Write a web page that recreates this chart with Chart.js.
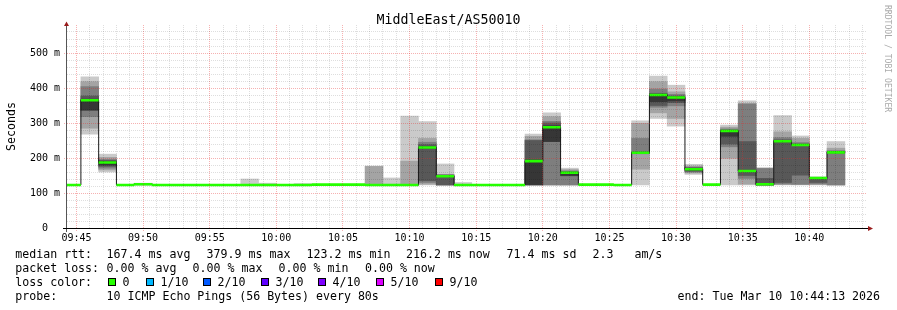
<!DOCTYPE html>
<html>
<head>
<meta charset="utf-8">
<title>MiddleEast/AS50010</title>
<script src="https://cdn.jsdelivr.net/npm/chart.js@4.4.1/dist/chart.umd.min.js"></script>
<style>
body { margin: 0; background: #fff; }
#wrap { width: 897px; height: 310px; }
</style>
</head>
<body>
<div id="wrap"><canvas id="myChart" width="897" height="310"></canvas></div>
<script>
var graphTitle = "MiddleEast/AS50010";
var yAxisTitle = "Seconds";
var watermark = "RRDTOOL / TOBI OETIKER";

// start of every 80 s step
var stepStart = [
    "09:44:00", "09:45:20", "09:46:40", "09:48:00", "09:49:20", "09:50:40", "09:52:00", "09:53:20",
    "09:54:40", "09:56:00", "09:57:20", "09:58:40", "10:00:00", "10:01:20", "10:02:40", "10:04:00",
    "10:05:20", "10:06:40", "10:08:00", "10:09:20", "10:10:40", "10:12:00", "10:13:20", "10:14:40",
    "10:16:00", "10:17:20", "10:18:40", "10:20:00", "10:21:20", "10:22:40", "10:24:00", "10:25:20",
    "10:26:40", "10:28:00", "10:29:20", "10:30:40", "10:32:00", "10:33:20", "10:34:40", "10:36:00",
    "10:37:20", "10:38:40", "10:40:00", "10:41:20"
];
var stepEnd = "10:42:40";

// median rtt per step (ms)
var medianRtt = [
    123, 365, 187, 123, 125, 123, 123, 123,
    123, 123, 123, 123, 123, 123, 124, 124,
    124, 123, 123, 123, 230, 148, 123, 123,
    123, 123, 191, 288, 158, 124, 124, 123,
    215, 380, 373, 168, 124, 277, 163, 125,
    248, 237, 143, 216
];

// the 10 sorted pings per step (ms), null = no spread
var pings = [
    null,
    [268, 285, 318, 336, 337, 368, 377, 404, 418, 432],
    [160, 166, 171, 176, 180, 190, 193, 196, 202, 211],
    null,
    [123, 123, 124, 124, 125, 126, 126, 127, 127, 128],
    null, null, null,
    null, null,
    [123, 123, 123, 123, 123, 123, 123, 123, 124, 140],
    [123, 123, 123, 123, 123, 123, 123, 123, 124, 128],
    null,
    [123, 123, 123, 123, 123, 123, 123, 123, 124, 127],
    null, null,
    null,
    [123, 123, 123, 123, 123, 123, 123, 123, 176, 177],
    [123, 123, 123, 123, 123, 123, 123, 123, 125, 143],
    [123, 123, 123, 123, 123, 123, 123, 123, 191, 320],
    [123, 125, 130, 135, 228, 232, 238, 245, 256, 304],
    [123, 123, 123, 123, 147, 149, 151, 152, 153, 183],
    [123, 123, 123, 123, 123, 123, 123, 123, 124, 130],
    null,
    null, null,
    [123, 123, 123, 123, 124, 195, 250, 252, 262, 268],
    [123, 123, 123, 247, 247, 292, 300, 305, 318, 329],
    [123, 123, 123, 149, 150, 159, 161, 163, 167, 171],
    null, null, null,
    [123, 168, 212, 213, 214, 216, 217, 256, 299, 306],
    [313, 329, 345, 350, 361, 382, 385, 397, 418, 434],
    [291, 313, 349, 358, 363, 375, 377, 382, 389, 408],
    [153, 157, 160, 162, 165, 170, 172, 174, 177, 182],
    null,
    [123, 199, 232, 240, 262, 279, 280, 283, 288, 294],
    [123, 125, 142, 150, 162, 165, 247, 354, 356, 363],
    [123, 123, 123, 123, 123, 127, 142, 170, 171, 172],
    [123, 124, 126, 130, 246, 250, 252, 258, 275, 321],
    [123, 124, 125, 151, 236, 238, 240, 244, 256, 263],
    [123, 124, 126, 130, 141, 143, 143, 144, 145, 146],
    [123, 123, 123, 214, 215, 217, 219, 221, 228, 247]
];

var xTickLabels = ["09:45", "09:50", "09:55", "10:00", "10:05", "10:10", "10:15", "10:20", "10:25", "10:30", "10:35", "10:40"];
var yTickValues = [0, 100, 200, 300, 400, 500];
var yTickLabels = ["0  ", "100 m", "200 m", "300 m", "400 m", "500 m"];

var statLine = ["167.4 ms avg", "379.9 ms max", "123.2 ms min", "216.2 ms now", "71.4 ms sd", "2.3", "am/s"];
var lossLine = ["0.00 % avg", "0.00 % max", "0.00 % min", "0.00 % now"];
var lossLabels = ["0", "1/10", "2/10", "3/10", "4/10", "5/10", "9/10"];
var lossColors = ["#26ff00", "#00b8ff", "#0059ff", "#5e00ff", "#7e00ff", "#dd00ff", "#ff0000"];
var probeText = "10 ICMP Echo Pings (56 Bytes) every 80s";
var endText = "end: Tue Mar 10 10:44:13 2026";

var mono = "'DejaVu Sans Mono', monospace";
var xMin = 584.29, xMax = 644.33;
var plotLeft = 67, plotRight = 867, plotTop = 25, plotBottom = 228;
var smokeColors = ["#cacaca", "#a4a4a4", "#7e7e7e", "#585858", "#363636"];
var minorGrid = "rgba(0, 0, 0, 0.13)";
var majorGrid = "rgba(230, 40, 40, 0.36)";

function toMin(s) {
    var p = s.split(":");
    return p[0] * 60 + Number(p[1]) + (p[2] ? p[2] / 60 : 0);
}
function fmtMin(v) {
    var h = Math.floor(v / 60), m = Math.round(v - h * 60);
    return (h < 10 ? "0" : "") + h + ":" + (m < 10 ? "0" : "") + m;
}

var stepMin = 80 / 60;
var barPx = (plotRight - plotLeft) / (xMax - xMin) * stepMin;

var datasets = [];
//Smoke
smokeColors.forEach(function (col, b) {
    var pts = [];
    pings.forEach(function (p, i) {
        if (p) {
            pts.push({ x: toMin(stepStart[i]) + stepMin / 2, y: [p[b], p[9 - b]] });
        }
    });
    datasets.push({
        type: 'bar',
        data: pts,
        backgroundColor: col,
        borderWidth: 0,
        grouped: false,
        barThickness: barPx,
        clip: 0,
        order: 20 - b
    });
});
//Median schwarz
var medianPts = stepStart.map(function (t, i) { return { x: toMin(t), y: medianRtt[i] }; });
medianPts.push({ x: toMin(stepEnd), y: medianRtt[medianRtt.length - 1] });
datasets.push({
    type: 'line',
    data: medianPts,
    stepped: true,
    borderColor: '#1a1a1a',
    borderWidth: 1,
    pointRadius: 0,
    fill: false,
    clip: 0,
    order: 2
});
//Median gruen (loss 0)
var greenPts = [];
stepStart.forEach(function (t, i) {
    var end = i + 1 < stepStart.length ? toMin(stepStart[i + 1]) : toMin(stepEnd);
    greenPts.push({ x: toMin(t), y: medianRtt[i] }, { x: end, y: medianRtt[i] }, { x: end, y: null });
});
datasets.push({
    type: 'line',
    data: greenPts,
    borderColor: lossColors[0],
    borderWidth: 2.6,
    borderCapStyle: 'butt',
    pointRadius: 0,
    spanGaps: false,
    fill: false,
    clip: 0,
    order: 1
});

var rrdDecor = {
    id: 'rrdDecor',
    afterDraw: function (chart) {
        var ctx = chart.ctx;
        var a = chart.chartArea;
        ctx.save();
        // Achsen
        ctx.lineWidth = 1;
        ctx.strokeStyle = '#555';
        ctx.beginPath();
        ctx.moveTo(a.left - 0.5, a.bottom + 4);
        ctx.lineTo(a.left - 0.5, a.top - 1);
        ctx.stroke();
        ctx.strokeStyle = '#000';
        ctx.beginPath();
        ctx.moveTo(a.left - 4, a.bottom + 0.5);
        ctx.lineTo(a.right + 2, a.bottom + 0.5);
        ctx.stroke();
        ctx.fillStyle = '#9a1c1c';
        ctx.beginPath();
        ctx.moveTo(a.left - 0.5, a.top - 3.5);
        ctx.lineTo(a.left - 3, a.top + 1);
        ctx.lineTo(a.left + 2, a.top + 1);
        ctx.closePath();
        ctx.fill();
        ctx.beginPath();
        ctx.moveTo(a.right + 6, a.bottom + 0.5);
        ctx.lineTo(a.right + 1, a.bottom - 2);
        ctx.lineTo(a.right + 1, a.bottom + 3);
        ctx.closePath();
        ctx.fill();

        // Titel
        ctx.fillStyle = '#000';
        ctx.textAlign = 'center';
        ctx.textBaseline = 'alphabetic';
        ctx.font = "13.3px " + mono;
        ctx.fillText(graphTitle, 448.5, 24);

        ctx.font = "11.6px " + mono;
        ctx.save();
        ctx.translate(15.3, 126.5);
        ctx.rotate(-Math.PI / 2);
        ctx.fillText(yAxisTitle, 0, 0);
        ctx.restore();

        ctx.save();
        ctx.fillStyle = '#aaa';
        ctx.font = "8.1px " + mono;
        ctx.textAlign = 'left';
        ctx.translate(885, 5);
        ctx.rotate(Math.PI / 2);
        ctx.fillText(watermark, 0, 0);
        ctx.restore();

        // Legende
        ctx.textAlign = 'left';
        var statX = [106.6, 206.6, 306.6, 406, 506.6, 592.6, 634.4];
        ctx.fillText("median rtt:", 15.3, 258.3);
        statLine.forEach(function (s, i) { ctx.fillText(s, statX[i], 258.3); });
        var lossX = [106.6, 192.6, 278.6, 365];
        ctx.fillText("packet loss:", 15.3, 272.3);
        lossLine.forEach(function (s, i) { ctx.fillText(s, lossX[i], 272.3); });
        ctx.fillText("loss color:", 15.3, 286.3);
        var boxX = [108, 146, 203, 261, 318, 376, 435];
        lossLabels.forEach(function (s, i) {
            ctx.fillStyle = lossColors[i];
            ctx.fillRect(boxX[i], 278, 8, 8);
            ctx.strokeStyle = '#000';
            ctx.strokeRect(boxX[i] + 0.5, 278.5, 7, 7);
            ctx.fillStyle = '#000';
            ctx.fillText(s, boxX[i] + 14.6, 286.3);
        });
        ctx.fillText("probe:", 15.3, 300.3);
        ctx.fillText(probeText, 106.6, 300.3);
        ctx.fillText(endText, 677.6, 300.3);
        ctx.restore();
    }
};

var canvas = document.getElementById('myChart');
var myChart = new Chart(canvas, {
    data: { datasets: datasets },
    options: {
        responsive: false,
        animation: false,
        events: [],
        layout: { padding: { top: plotTop, right: 897 - plotRight, bottom: 0, left: 0 } },
        plugins: {
            legend: { display: false },
            tooltip: { enabled: false },
            title: { display: false }
        },
        scales: {
            x: {
                type: 'linear',
                min: xMin,
                max: xMax,
                offset: false,
                bounds: 'data',
                afterFit: function (s) {
                    s.height = 310 - plotBottom;
                    s.paddingLeft = 0;
                    s.paddingRight = 0;
                },
                afterBuildTicks: function (s) {
                    var t = [];
                    for (var m = Math.ceil(xMin); m <= xMax; m++) t.push({ value: m });
                    s.ticks = t;
                },
                ticks: {
                    autoSkip: false,
                    maxRotation: 0,
                    minRotation: 0,
                    padding: 1,
                    color: '#000',
                    font: { family: mono, size: 10 },
                    callback: function (v) {
                        var s = fmtMin(v);
                        return xTickLabels.indexOf(s) >= 0 ? s : "";
                    }
                },
                grid: {
                    z: 1,
                    offset: false,
                    lineWidth: 1,
                    drawTicks: true,
                    tickLength: 3,
                    color: function (c) { return c.tick && c.tick.value % 5 === 0 ? majorGrid : minorGrid; },
                    tickColor: function (c) { return c.tick && c.tick.value % 5 === 0 ? majorGrid : 'rgba(0,0,0,0)'; },
                    tickBorderDash: [1, 1]
                },
                border: { display: false, dash: [1, 1] }
            },
            y: {
                type: 'linear',
                min: 0,
                max: (plotBottom - plotTop) / 0.35,
                bounds: 'data',
                afterFit: function (s) {
                    s.width = plotLeft;
                    s.paddingTop = 0;
                    s.paddingBottom = 0;
                },
                afterBuildTicks: function (s) {
                    var t = [];
                    for (var v = 0; v < s.max; v += 20) t.push({ value: v });
                    s.ticks = t;
                },
                ticks: {
                    autoSkip: false,
                    padding: 4,
                    color: '#000',
                    font: { family: mono, size: 10 },
                    callback: function (v) {
                        var i = yTickValues.indexOf(v);
                        return i >= 0 ? yTickLabels[i] : "";
                    }
                },
                grid: {
                    z: 1,
                    lineWidth: 1,
                    drawTicks: true,
                    tickLength: 3,
                    color: function (c) { return c.tick && c.tick.value % 100 === 0 ? majorGrid : minorGrid; },
                    tickColor: function (c) { return c.tick && c.tick.value % 100 === 0 ? majorGrid : 'rgba(0,0,0,0)'; },
                    tickBorderDash: [1, 1]
                },
                border: { display: false, dash: [1, 1] }
            }
        }
    },
    plugins: [rrdDecor]
});
</script>
</body>
</html>
